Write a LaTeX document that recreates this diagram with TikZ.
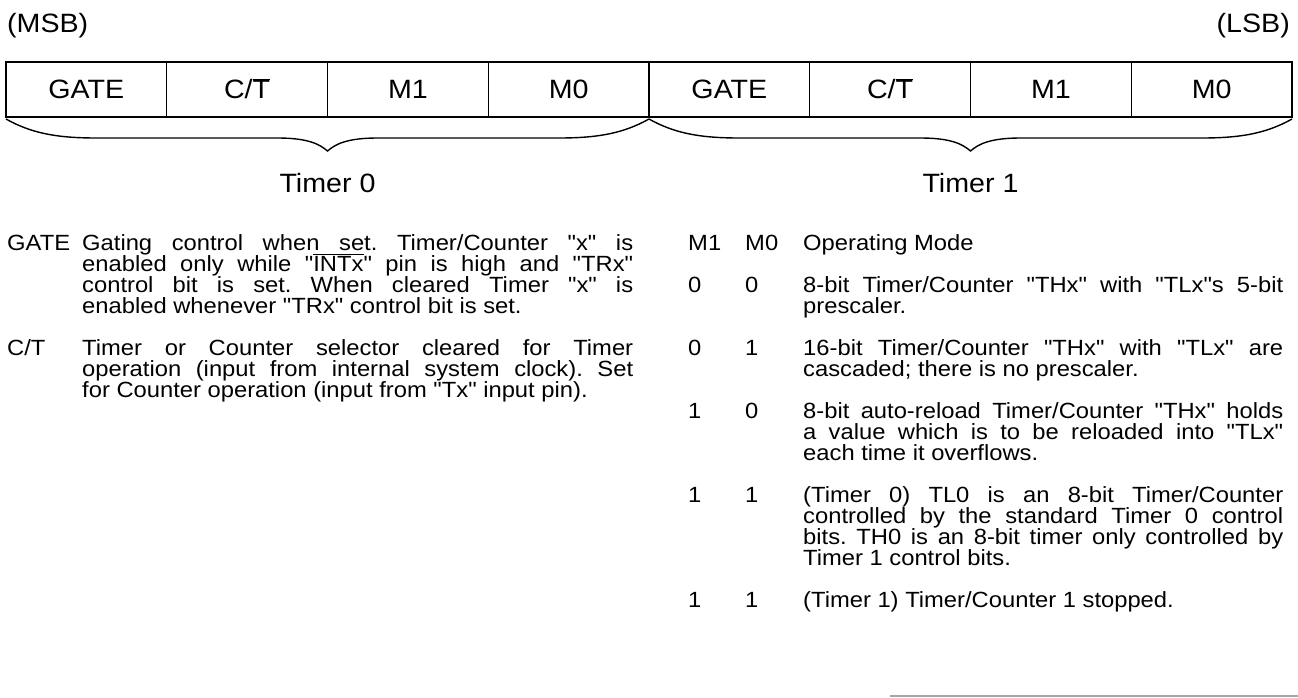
\documentclass[tikz,border=0pt]{standalone}
\usepackage{fontspec}
\setmainfont{Liberation Sans}[Ligatures=TeXOff, FakeStretch=1.08]
\usetikzlibrary{calc,positioning}

\newcommand\bodyfont{\fontsize{22}{21}\selectfont\lineskiplimit=-50pt\frenchspacing\relax}
\newcommand\headfont{\fontsize{26.5}{30}\selectfont}

\begin{document}
\begin{tikzpicture}[x=1pt, y=-1pt,
  bitcell/.style={draw, line width=1.4pt, minimum width=160.75pt, minimum height=55pt,
    inner sep=0pt, text height=19pt, text depth=0pt, font=\headfont},
  head/.style={inner sep=0pt, font=\headfont},
  txt/.style={anchor=base west, inner sep=0pt, font=\bodyfont},
  para/.style={txt, align=justify},
  brc/.style={line width=1.4pt}]
  \useasboundingbox (0,0) rectangle (1298,698);
  % bit order
  \node[head, anchor=base west] (msb) at (7,33) {(MSB)};
  \node[head, anchor=base east] (lsb) at (1290,33) {(LSB)};
  % register cells, 1 unit = 1 px of the sheet
  \def\xL{6}
  \def\cw{160.75}
  \foreach \lbl [count=\i from 0] in {GATE, C/$\overline{\mbox{T}}$, M1, M0, GATE, C/$\overline{\mbox{T}}$, M1, M0}
    \node[bitcell] (b\i) at ({\xL+\cw*(\i+0.5)}, 89.5) {\lbl};
  % braces under each nibble
  \foreach \a/\b in {6/649, 649/1292} {
    \pgfmathsetmacro\m{(\a+\b)/2}
    \draw[brc] (\a,119) .. controls (\a+25,133) and (\a+50,138) .. (\a+90,138)
      -- (\m-50,138) .. controls (\m-20,138) and (\m-8,144) .. (\m,151)
      .. controls (\m+8,144) and (\m+20,138) .. (\m+50,138)
      -- (\b-90,138) .. controls (\b-50,138) and (\b-25,133) .. (\b,119);
  }
  \node[head, anchor=base] (tmr0) at (327.5,192) {Timer 0};
  \node[head, anchor=base] (tmr1) at (970.5,192) {Timer 1};
  % left column: GATE and C/T
  \node[txt] (gate) at (7,250) {GATE};
  \node[para, text width=551pt] (gatetxt) at (82,250) {Gating control when set. Timer/Counter "x" is\linebreak
    enabled only while "$\overline{\mbox{INTx}}$" pin is high and "TRx"\linebreak
    control bit is set. When cleared Timer "x" is\linebreak
    enabled whenever "TRx" control bit is set.};
  \node[txt] (ct) at (7,355) {C/T};
  \node[para, text width=551pt] (cttxt) at (82,355) {Timer or Counter selector cleared for Timer\linebreak
    operation (input from internal system clock). Set\linebreak
    for Counter operation (input from "Tx" input pin).};
  % right column: mode table
  \node[txt] (m1h) at (688,250) {M1};
  \node[txt] (m0h) at (745,250) {M0};
  \node[txt] (modeh) at (803,250) {Operating Mode};
  % mode 0
  \node[txt] (r0a) at (688,292) {0};
  \node[txt] (r0b) at (745,292) {0};
  \node[para, text width=480pt] (r0t) at (803,292) {8-bit Timer/Counter "THx" with "TLx"s 5-bit\linebreak
    prescaler.};
  % mode 1
  \node[txt] (r1a) at (688,355) {0};
  \node[txt] (r1b) at (745,355) {1};
  \node[para, text width=480pt] (r1t) at (803,355) {16-bit Timer/Counter "THx" with "TLx" are\linebreak
    cascaded; there is no prescaler.};
  % mode 2
  \node[txt] (r2a) at (688,418) {1};
  \node[txt] (r2b) at (745,418) {0};
  \node[para, text width=480pt] (r2t) at (803,418) {8-bit auto-reload Timer/Counter "THx" holds\linebreak
    a value which is to be reloaded into "TLx"\linebreak
    each time it overflows.};
  % mode 3, timer 0
  \node[txt] (r3a) at (688,502) {1};
  \node[txt] (r3b) at (745,502) {1};
  \node[para, text width=480pt] (r3t) at (803,502) {(Timer 0) TL0 is an 8-bit Timer/Counter\linebreak
    controlled by the standard Timer 0 control\linebreak
    bits. TH0 is an 8-bit timer only controlled by\linebreak
    Timer 1 control bits.};
  % mode 3, timer 1
  \node[txt] (r4a) at (688,607) {1};
  \node[txt] (r4b) at (745,607) {1};
  \node[txt] (r4t) at (803,607) {(Timer 1) Timer/Counter 1 stopped.};
  % edge of the next table
  \draw[gray!70, line width=2pt] (890,696) -- (1298,696);
\end{tikzpicture}
\end{document}
